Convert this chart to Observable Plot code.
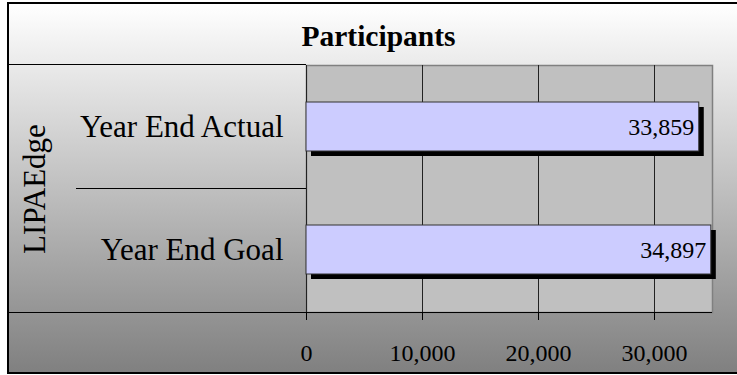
<!DOCTYPE html>
<html><head><meta charset="utf-8">
<script src="https://cdn.jsdelivr.net/npm/d3@7"></script>
<script src="https://cdn.jsdelivr.net/npm/@observablehq/plot@0.6"></script>
<style>
body{margin:0;background:#fff;}
#chart{position:relative;width:737px;height:375px;overflow:hidden;font-family:"Liberation Serif","Times New Roman",serif;}
#box{position:absolute;left:7px;top:2px;width:760px;height:372px;box-sizing:border-box;border:2px solid #000;background:linear-gradient(#ffffff,#808080);}
#title{position:absolute;left:7px;width:743px;top:22px;line-height:1;font-size:29.5px;font-weight:bold;text-align:center;color:#000;}
#plot{position:absolute;left:0;top:0;}
.ln{position:absolute;height:0;border-top:1px solid #000;}
</style>
</head><body>
<div id="chart">
  <div id="box"></div>
  <div id="title">Participants</div>
  <div id="plot"></div>
  <div class="ln" style="left:7px;top:64px;width:299px"></div>
  <div class="ln" style="left:76px;top:188px;width:230px"></div>
  <div class="ln" style="left:7px;top:312px;width:705px"></div>
</div>
<script>
const groups = ["LIPAEdge"];
const categories = ["Year End Actual", "Year End Goal"];
const values = [33859, 34897];
const xTicks = [0, 10000, 20000, 30000];
const xMax = 35000;

const data = categories.map((c, i) => ({category: c, value: values[i]}));
const fmt = d3.format(",");

const chart = Plot.plot({
  width: 737,
  height: 375,
  marginLeft: 306,
  marginRight: 25,
  marginTop: 65,
  marginBottom: 63,
  style: {fontFamily: "'Liberation Serif','Times New Roman',serif", background: "transparent", color: "#000", overflow: "visible"},
  x: {domain: [0, xMax]},
  y: {domain: categories, paddingInner: 0.6, paddingOuter: 0.3},
  marks: [
    Plot.frame({fill: "#c0c0c0", stroke: "#808080", strokeWidth: 1.5}),
    Plot.ruleX(xTicks, {stroke: "#222", strokeWidth: 1}),
    Plot.barX(data, {x: "value", y: "category", fill: "#000", dx: 5, dy: 5, clip: false}),
    Plot.barX(data, {x: "value", y: "category", fill: "#ccccff", stroke: "#333", strokeWidth: 1}),
    Plot.text(data, {x: "value", y: "category", text: d => fmt(d.value), textAnchor: "end", dx: -5, fontSize: 24, fill: "#000"}),
    Plot.axisY({tickSize: 0, tickPadding: 23, fontSize: 31, label: null}),
    Plot.axisX({ticks: xTicks, tickFormat: d => fmt(d), tickSize: 8, tickPadding: 23, fontSize: 24, label: null}),
    Plot.text(groups, {frameAnchor: "left", dx: -271, rotate: -90, textAnchor: "middle", fontSize: 31, fill: "#000"})
  ]
});
document.getElementById("plot").appendChild(chart);
</script>
</body></html>
